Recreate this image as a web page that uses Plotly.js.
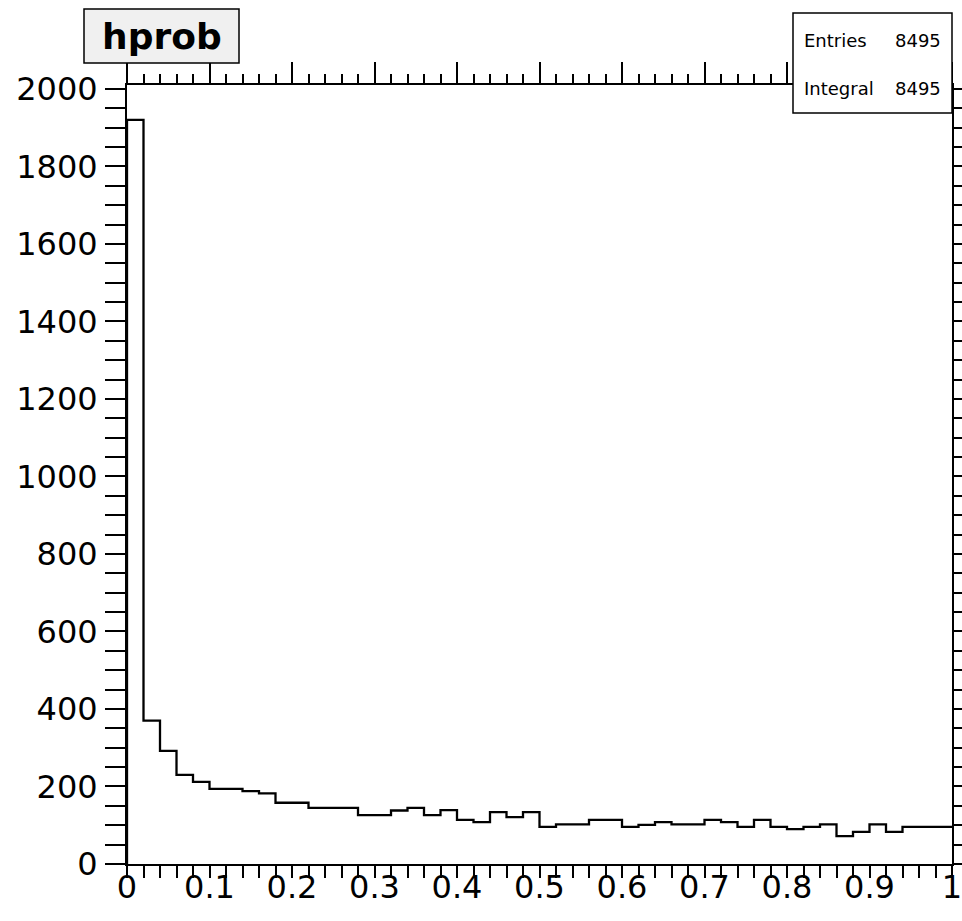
<!DOCTYPE html>
<html>
<head>
<meta charset="utf-8">
<script src="https://cdn.plot.ly/plotly-3.0.1.min.js"></script>
<style>html,body{margin:0;padding:0;background:#fff;}#chart{width:962px;height:921px;}</style>
</head>
<body>
<div id="chart"></div>
<script>
// Histogram "hprob": 50 bins from 0 to 1
const binLow = 0;
const binHigh = 1;
const counts = [
  1920, 370, 292, 230, 212, 194, 194, 188, 182, 158,
  158, 145, 145, 145, 126, 126, 138, 145, 126, 139,
  114, 108, 134, 121, 134, 96, 102, 102, 114, 114,
  96, 101, 108, 102, 102, 114, 108, 96, 114, 96,
  90, 96, 102, 72, 83, 102, 83, 96, 96, 96
];
const histTitle = "hprob";
const statLabels = ["Entries", "Integral"];
const statValues = ["8495", "8495"];
const xTickVals = [0, 0.1, 0.2, 0.3, 0.4, 0.5, 0.6, 0.7, 0.8, 0.9, 1];
const xTickText = ["0", "0.1", "0.2", "0.3", "0.4", "0.5", "0.6", "0.7", "0.8", "0.9", "1"];
const yTickVals = [0, 200, 400, 600, 800, 1000, 1200, 1400, 1600, 1800, 2000];

const nb = counts.length;
const w = (binHigh - binLow) / nb;
const xs = [binLow];
const ys = [0];
for (let i = 0; i < nb; i++) { xs.push(binLow + i * w); ys.push(counts[i]); }
xs.push(binHigh); ys.push(counts[nb - 1]);

const trace = {
  type: 'scatter', mode: 'lines', x: xs, y: ys,
  line: {shape: 'hv', color: '#000', width: 2.3},
  hoverinfo: 'skip', showlegend: false
};
// invisible trace so the top (mirror) axis is drawn
const topTrace = {
  type: 'scatter', mode: 'lines', x: [binLow, binHigh], y: [0, 0], xaxis: 'x2',
  line: {color: 'rgba(0,0,0,0)', width: 0}, hoverinfo: 'skip', showlegend: false
};

const FONT = 'DejaVu Sans, Liberation Sans, Arial, sans-serif';
const L = 127, R = 10, T = 85, B = 57, W = 962, H = 921;
const PW = W - L - R, PH = H - T - B;
const px = v => (v - L) / PW;
const py = v => (H - B - v) / PH;

const layout = {
  width: W, height: H,
  margin: {l: L, r: R, t: T, b: B, pad: 0},
  paper_bgcolor: '#fff', plot_bgcolor: '#fff',
  font: {family: FONT, color: '#000'},
  showlegend: false,
  xaxis: {
    range: [binLow, binHigh], tickmode: 'array', tickvals: xTickVals, ticktext: xTickText,
    showline: true, linecolor: '#000', linewidth: 2, mirror: true,
    ticks: 'outside', ticklen: 12, tickwidth: 2, tickcolor: '#000',
    minor: {dtick: 0.02, ticks: 'outside', ticklen: 12, tickwidth: 2, tickcolor: '#000', showgrid: false},
    showgrid: false, zeroline: false,
    tickfont: {family: FONT, size: 32, color: '#000'},
    ticklabelstandoff: -18, ticklabeloverflow: 'allow', fixedrange: true
  },
  xaxis2: {
    overlaying: 'x', side: 'top', anchor: 'y', matches: 'x',
    range: [binLow, binHigh], tickmode: 'array', tickvals: xTickVals,
    showline: false, showticklabels: false,
    ticks: 'outside', ticklen: 22, tickwidth: 2, tickcolor: '#000',
    minor: {dtick: 0.02, ticks: 'outside', ticklen: 10, tickwidth: 2, tickcolor: '#000', showgrid: false},
    showgrid: false, zeroline: false, fixedrange: true
  },
  yaxis: {
    range: [0, 2010], tickmode: 'array', tickvals: yTickVals,
    showline: true, linecolor: '#000', linewidth: 2, mirror: 'allticks',
    ticks: 'outside', ticklen: 20, tickwidth: 2, tickcolor: '#000',
    minor: {dtick: 50, ticks: 'outside', ticklen: 11, tickwidth: 2, tickcolor: '#000', showgrid: false},
    showgrid: false, zeroline: false,
    tickfont: {family: FONT, size: 32, color: '#000'},
    ticklabelstandoff: 1, fixedrange: true
  },
  shapes: [
    {type: 'rect', xref: 'paper', yref: 'paper', layer: 'above',
     x0: px(84), x1: px(239), y0: py(63), y1: py(9),
     fillcolor: '#f0f0f0', line: {color: '#000', width: 1.5}},
    {type: 'rect', xref: 'paper', yref: 'paper', layer: 'above',
     x0: px(793), x1: px(952), y0: py(113), y1: py(13),
     fillcolor: '#fff', line: {color: '#000', width: 1.5}}
  ],
  annotations: [
    {text: '<b>' + histTitle + '</b>', xref: 'paper', yref: 'paper', x: px(161.5), y: py(36),
     xanchor: 'center', yanchor: 'middle', showarrow: false,
     font: {family: FONT, size: 36, color: '#000'}},
    {text: statLabels[0], xref: 'paper', yref: 'paper', x: px(802), y: py(41),
     xanchor: 'left', yanchor: 'middle', showarrow: false, font: {family: FONT, size: 18, color: '#000'}},
    {text: statValues[0], xref: 'paper', yref: 'paper', x: px(943), y: py(41),
     xanchor: 'right', yanchor: 'middle', showarrow: false, font: {family: FONT, size: 18, color: '#000'}},
    {text: statLabels[1], xref: 'paper', yref: 'paper', x: px(802), y: py(89),
     xanchor: 'left', yanchor: 'middle', showarrow: false, font: {family: FONT, size: 18, color: '#000'}},
    {text: statValues[1], xref: 'paper', yref: 'paper', x: px(943), y: py(89),
     xanchor: 'right', yanchor: 'middle', showarrow: false, font: {family: FONT, size: 18, color: '#000'}}
  ]
};

Plotly.newPlot('chart', [trace, topTrace], layout, {staticPlot: true, displayModeBar: false});
</script>
</body>
</html>
